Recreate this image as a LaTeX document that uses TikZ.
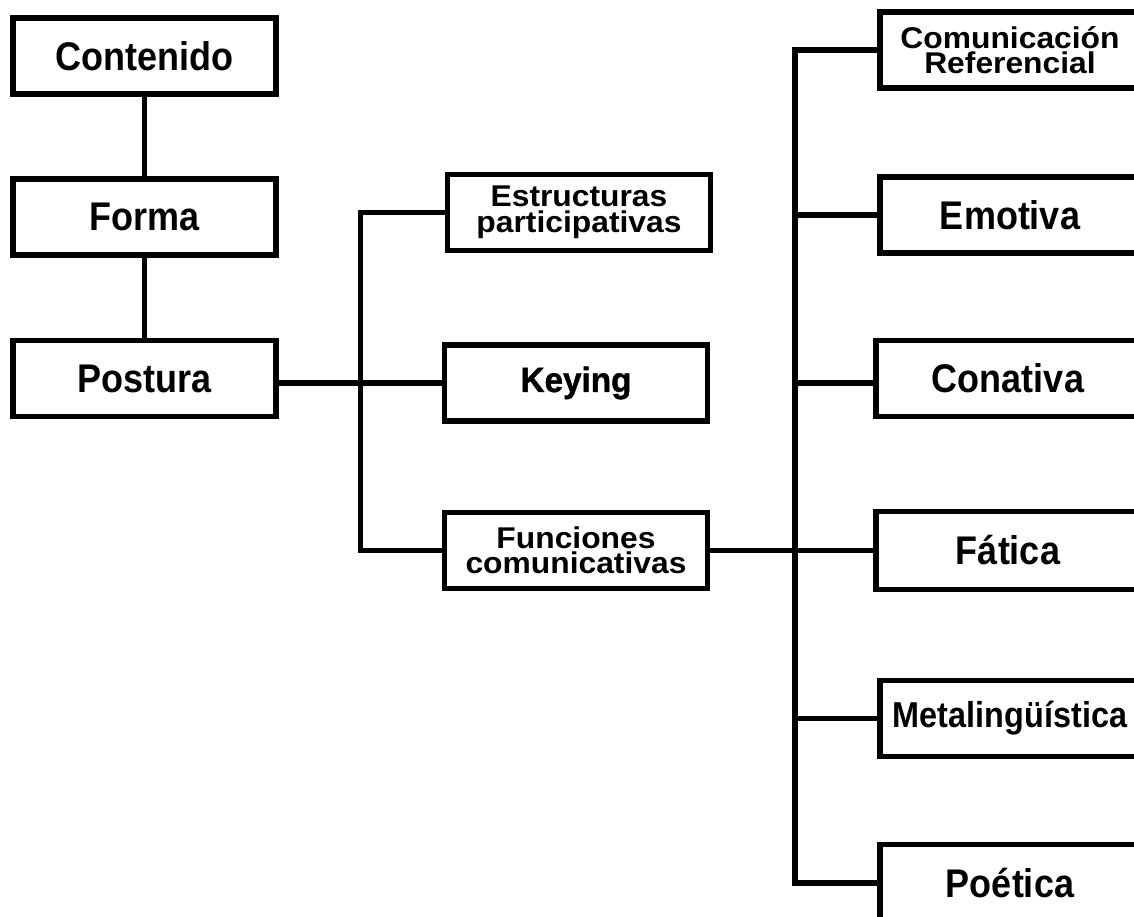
\documentclass[tikz,border=0pt]{standalone}
\usepackage{fontspec}
\setmainfont{Liberation Sans}
\newfontfamily\narrowfont{Liberation Sans}[FakeStretch=0.9]
\newfontfamily\heavyfont{Liberation Sans}[FakeStretch=0.95,FakeBold=1.2]
\newfontfamily\widefont{Liberation Sans}[FakeStretch=1.06]
\tikzset{
  box/.style={draw=black, line width=5.5pt, rectangle, inner sep=0pt, align=center,
    minimum width=263pt, minimum height=76pt},
  bigtxt/.style={font=\narrowfont\bfseries\fontsize{40}{40}\selectfont},
  twoline/.style={font=\widefont\bfseries\fontsize{30}{25.5}\selectfont},
  conn/.style={draw=black, line width=5.5pt}
}
\begin{document}
\begin{tikzpicture}[x=1pt,y=-1pt]
\clip (0,0) rectangle (1134,917);
\fill[white] (0,0) rectangle (1134,917);
% left column
\node[box,bigtxt] (cont) at (144.5,56) {Contenido};
\node[box,bigtxt] (forma) at (144.5,217) {Forma};
\node[box,bigtxt] (post) at (144.5,378.5) {Postura};
% middle column
\node[box,twoline] (estr) at (579,212.5) {Estructuras\\participativas};
\node[box,font=\heavyfont\bfseries\fontsize{35}{35}\selectfont] (key) at (576,383) {Keying};
\node[box,twoline] (func) at (576,550.5) {Funciones\\comunicativas};
% right column
\node[box,twoline,minimum width=260pt] (comu) at (1010,50) {Comunicación\\Referencial};
\node[box,bigtxt,minimum width=260pt] (emot) at (1010,215) {Emotiva};
\node[box,bigtxt,minimum width=264pt] (cona) at (1008,378.5) {Conativa};
\node[box,bigtxt,minimum width=264pt,minimum height=78pt] (fati) at (1008,550.5) {Fática};
\node[box,font=\narrowfont\bfseries\fontsize{36}{36}\selectfont,minimum width=260pt] (meta) at (1010,718.5) {Metalingüística};
\node[box,bigtxt,minimum width=260pt,minimum height=77pt] (poet) at (1010,883) {Poética};
% junctions
\coordinate (j1) at (360.5,383.5);
\coordinate (j2) at (795,550.5);
% connectors
\draw[conn] (cont.south) -- (forma.north);
\draw[conn] (forma.south) -- (post.north);
\draw[conn] (post.east |- key.west) -- (key.west);
\draw[conn] (estr.west) -| (j1) |- (func.west);
\draw[conn] (func.east) -- (fati.west);
\draw[conn] (comu.west) -| (j2) |- (poet.west);
\draw[conn] (j2 |- emot.west) -- (emot.west);
\draw[conn] (j2 |- key.west) -- (cona.west |- key.west);
\draw[conn] (j2 |- meta.west) -- (meta.west);
\end{tikzpicture}
\end{document}
